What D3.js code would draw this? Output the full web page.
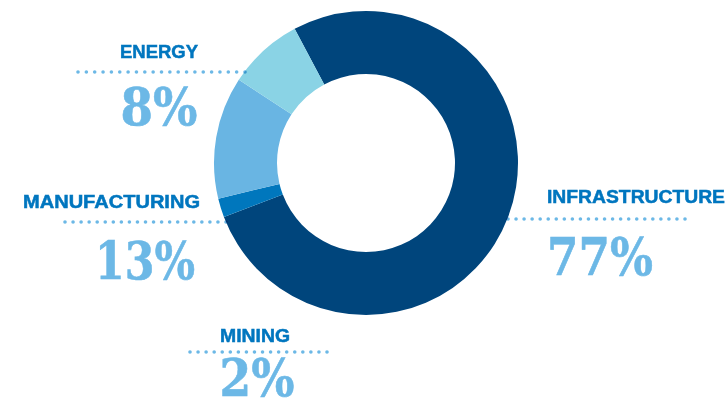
<!DOCTYPE html>
<html>
<head>
<meta charset="utf-8">
<script src="https://cdn.jsdelivr.net/npm/d3@7"></script>
<style>
  html, body { margin: 0; padding: 0; background: #fff; }
  svg { display: block; }
</style>
</head>
<body>
<svg id="chart" width="727" height="409"></svg>
<script>
// Sector shares (percent), in clockwise drawing order
const sectors = ["INFRASTRUCTURE", "MINING", "MANUFACTURING", "ENERGY"];
const shares = [77, 2, 13, 8];
const percentLabels = ["77%", "2%", "13%", "8%"];
const sliceColors = ["#00457c", "#0077bd", "#69b5e3", "#8ad3e5"];

const svg = d3.select("#chart");
const cx = 366, cy = 163;
const outerR = 152, innerR = 89;

const pie = d3.pie()
  .sort(null)
  .value(d => d.value)
  .startAngle(-28 * Math.PI / 180)
  .endAngle((360 - 28) * Math.PI / 180);

const rows = sectors.map((s, i) => ({ name: s, value: shares[i], label: percentLabels[i], color: sliceColors[i] }));
const arcs = pie(rows);

const arc = d3.arc().innerRadius(innerR).outerRadius(outerR);

const g = svg.append("g").attr("transform", `translate(${cx},${cy})`);
g.selectAll("path")
  .data(arcs)
  .join("path")
  .attr("d", arc)
  .attr("fill", d => d.data.color);

// Label layout for each sector: name, dotted leader, percentage
const layout = {
  ENERGY:         { nameX: 159,   nameY: 58,  nameW: 78,  leader: [78, 245, 72],  pctX: 159, pctY: 125, pctW: 77 },
  MANUFACTURING:  { nameX: 111.5, nameY: 208, nameW: 177, leader: [65, 226, 222], pctX: 145, pctY: 279, pctW: 100 },
  MINING:         { nameX: 255,   nameY: 342, nameW: 70,  leader: [190, 327, 352], pctX: 257, pctY: 396, pctW: 75 },
  INFRASTRUCTURE: { nameX: 636,   nameY: 203, nameW: 178, leader: [508, 685, 219], pctX: 600, pctY: 275, pctW: 106 }
};

const labels = svg.append("g");
rows.forEach(r => {
  const L = layout[r.name];
  labels.append("text")
    .attr("x", L.nameX)
    .attr("y", L.nameY)
    .attr("text-anchor", "middle")
    .attr("font-family", "'Liberation Sans', Arial, sans-serif")
    .attr("font-weight", "bold")
    .attr("font-size", 18)
    .attr("fill", "#0076bf")
    .attr("stroke", "#0076bf")
    .attr("stroke-width", 0.5)
    .attr("textLength", L.nameW)
    .attr("lengthAdjust", "spacingAndGlyphs")
    .text(r.name);

  labels.append("text")
    .attr("x", L.pctX)
    .attr("y", L.pctY)
    .attr("text-anchor", "middle")
    .attr("font-family", "'DejaVu Serif', serif")
    .attr("font-weight", "bold")
    .attr("font-size", 52)
    .attr("fill", "#6cb8e6")
    .attr("stroke", "#6cb8e6")
    .attr("stroke-width", 0.6)
    .attr("textLength", L.pctW)
    .attr("lengthAdjust", "spacingAndGlyphs")
    .text(r.label);

  // Dotted leader; multiply so the end dot darkens where it meets a slice
  const [x0, x1, y] = L.leader;
  const n = Math.round((x1 - x0) / 8.2);
  const xs = d3.range(n + 1).map(k => x0 + (x1 - x0) * k / n);
  labels.append("g")
    .style("mix-blend-mode", "multiply")
    .selectAll("circle")
    .data(xs)
    .join("circle")
    .attr("cx", d => d)
    .attr("cy", y)
    .attr("r", 1.8)
    .attr("fill", "#6cb8e6");
});
</script>
</body>
</html>
